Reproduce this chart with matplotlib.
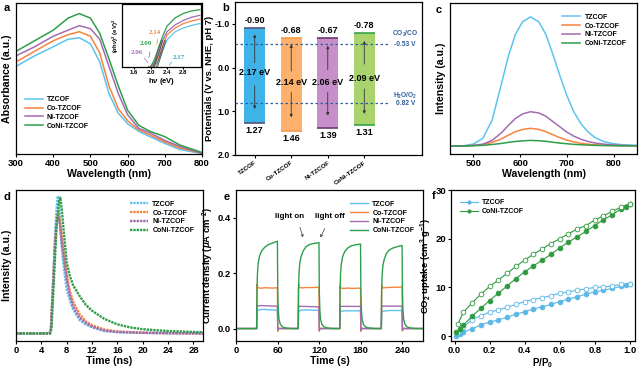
import matplotlib
matplotlib.use("Agg")
import matplotlib.pyplot as plt
from matplotlib.lines import Line2D

plt.rcParams.update({
    "font.family": ["Liberation Sans", "DejaVu Sans"],
    "font.weight": "bold",
    "axes.labelweight": "bold",
    "mathtext.fontset": "custom",
    "mathtext.rm": "Liberation Sans:bold",
    "mathtext.it": "Liberation Sans:italic:bold",
    "mathtext.bf": "Liberation Sans:bold",
    "axes.linewidth": 0.9,
    "xtick.major.width": 0.8,
    "ytick.major.width": 0.8,
    "xtick.major.size": 2.5,
    "ytick.major.size": 2.5,
    "xtick.major.pad": 1.2,
    "ytick.major.pad": 1.2,
    "xtick.labelsize": 6.8,
    "ytick.labelsize": 6.8,
    "axes.labelsize": 7.6,
    "axes.labelpad": 0.8,
})

names = ["TZCOF", "Co-TZCOF", "Ni-TZCOF", "CoNi-TZCOF"]
colors = ["#5cc3ee", "#f5833c", "#a36bb0", "#2f9e4b"]

# ---- a: UV-vis ----
wl = [300, 350, 400, 440, 470, 500, 525, 550, 575, 600, 630, 660, 700, 740, 800]
abs_tz = [0.58, 0.65, 0.71, 0.76, 0.77, 0.73, 0.61, 0.40, 0.27, 0.20, 0.15, 0.115, 0.07, 0.03, 0.003]
abs_co = [0.61, 0.68, 0.75, 0.79, 0.81, 0.78, 0.67, 0.45, 0.30, 0.22, 0.16, 0.126, 0.08, 0.04, 0.005]
abs_ni = [0.65, 0.71, 0.78, 0.82, 0.85, 0.83, 0.76, 0.58, 0.40, 0.26, 0.17, 0.14, 0.09, 0.05, 0.005]
abs_coni = [0.68, 0.75, 0.82, 0.90, 0.93, 0.90, 0.80, 0.63, 0.45, 0.29, 0.19, 0.15, 0.115, 0.06, 0.01]

hv = [1.95, 2.0, 2.1, 2.2, 2.3, 2.4, 2.6, 2.8, 3.0, 3.2]
tauc_tz = [0.0, 0.0, 0.02, 0.11, 0.27, 0.43, 0.56, 0.62, 0.66, 0.69]
tauc_co = [0.0, 0.0, 0.04, 0.16, 0.35, 0.51, 0.62, 0.69, 0.73, 0.76]
tauc_ni = [0.0, 0.01, 0.07, 0.21, 0.43, 0.56, 0.67, 0.74, 0.79, 0.82]
tauc_coni = [0.0, 0.0, 0.13, 0.32, 0.50, 0.65, 0.78, 0.85, 0.89, 0.91]
gaps = [2.17, 2.14, 2.06, 2.09]

# ---- b: band structure ----
cb = [-0.90, -0.68, -0.67, -0.78]
vb = [1.27, 1.46, 1.39, 1.31]
eg = [2.17, 2.14, 2.06, 2.09]
eg_y = [0.11, 0.34, 0.34, 0.24]
up_arrow = [(-0.11, -0.76), (0.08, -0.53), (0.05, -0.50), (-0.08, -0.61)]
down_arrow = [(0.42, 0.95), (0.57, 1.14), (0.57, 1.10), (0.49, 1.06)]
co2_co = -0.53
h2o_o2 = 0.82
bar_cols = ["#3fb3e8", "#fdb16c", "#c78fc9", "#a9d46d"]
edge_cols = ["#55557a", "#f59a4a", "#6a3a70", "#39a24a"]

# ---- c: PL ----
pl_wl = [450, 480, 500, 520, 540, 560, 575, 590, 605, 622, 640, 655, 670, 685, 700, 715, 730, 745, 760, 780, 800, 820, 850]
pl_tz = [0.053, 0.055, 0.066, 0.103, 0.223, 0.464, 0.650, 0.792, 0.875, 0.908, 0.875, 0.792, 0.661, 0.519, 0.387, 0.278, 0.201, 0.147, 0.109, 0.081, 0.068, 0.061, 0.057]
pl_co = [0.053, 0.054, 0.056, 0.062, 0.077, 0.100, 0.125, 0.148, 0.162, 0.170, 0.163, 0.148, 0.128, 0.108, 0.092, 0.080, 0.071, 0.065, 0.061, 0.058, 0.056, 0.055, 0.054]
pl_ni = [0.053, 0.054, 0.057, 0.065, 0.090, 0.140, 0.190, 0.235, 0.265, 0.280, 0.272, 0.250, 0.215, 0.180, 0.145, 0.118, 0.098, 0.083, 0.073, 0.065, 0.060, 0.057, 0.055]
pl_coni = [0.053, 0.053, 0.055, 0.057, 0.063, 0.070, 0.077, 0.083, 0.087, 0.090, 0.088, 0.084, 0.078, 0.072, 0.068, 0.064, 0.061, 0.059, 0.057, 0.056, 0.055, 0.054, 0.054]

# ---- d: TRPL ----
t_tz = [0, 2, 4, 5.3, 5.5, 5.8, 6.1, 6.4, 6.6, 6.8, 7.0, 7.2, 7.5, 8.0, 8.5, 9, 10, 11, 12, 14, 16, 20, 24, 29.5]
d_tz = [0.05, 0.05, 0.05, 0.05, 0.08, 0.35, 0.65, 0.88, 0.96, 0.90, 0.75, 0.63, 0.50, 0.34, 0.27, 0.21, 0.14, 0.11, 0.09, 0.066, 0.058, 0.054, 0.052, 0.05]
t_co = [0, 2, 4, 5.3, 5.5, 5.8, 6.1, 6.4, 6.7, 6.9, 7.2, 7.5, 8.0, 8.5, 9, 10, 11, 12, 14, 16, 20, 24, 29.5]
d_co = [0.05, 0.05, 0.05, 0.05, 0.08, 0.33, 0.60, 0.80, 0.86, 0.80, 0.70, 0.60, 0.44, 0.33, 0.26, 0.18, 0.13, 0.105, 0.075, 0.063, 0.055, 0.052, 0.05]
d_ni = [0.05, 0.05, 0.05, 0.05, 0.08, 0.33, 0.60, 0.78, 0.82, 0.78, 0.66, 0.56, 0.41, 0.30, 0.23, 0.155, 0.12, 0.095, 0.068, 0.060, 0.054, 0.052, 0.05]
t_coni = [0, 2, 4, 5.4, 5.6, 6.0, 6.4, 6.8, 7.0, 7.2, 7.5, 8.0, 8.5, 9, 10, 11, 12, 14, 16, 18, 20, 24, 29.5]
d_coni = [0.05, 0.05, 0.05, 0.05, 0.08, 0.42, 0.76, 0.93, 0.95, 0.88, 0.74, 0.52, 0.43, 0.37, 0.30, 0.24, 0.20, 0.145, 0.11, 0.09, 0.078, 0.066, 0.058]

# ---- e: photocurrent ----
t_e = [0, 29.8,
       30.3, 31, 32, 34, 37, 41, 46, 52, 59.8, 60.3, 61, 62, 64, 67, 72, 80, 89.8,
       90.3, 91, 92, 94, 97, 101, 106, 112, 119.8, 120.3, 121, 122, 124, 127, 132, 140, 149.8,
       150.3, 151, 152, 154, 157, 161, 166, 172, 179.8, 180.3, 181, 182, 184, 187, 192, 200, 209.8,
       210.3, 211, 212, 214, 217, 221, 226, 232, 239.8, 240.3, 241, 242, 244, 247, 252, 260, 270]
j_coni = [0, 0,
          0.14, 0.20, 0.235, 0.262, 0.28, 0.292, 0.302, 0.308, 0.315, 0.13, 0.07, 0.035, 0.015, 0.006, 0.002, 0, 0,
          0.14, 0.20, 0.235, 0.26, 0.28, 0.295, 0.303, 0.307, 0.31, 0.13, 0.07, 0.035, 0.015, 0.006, 0.002, 0, 0,
          0.14, 0.20, 0.232, 0.26, 0.278, 0.29, 0.298, 0.302, 0.305, 0.13, 0.07, 0.035, 0.015, 0.006, 0.002, 0, 0,
          0.13, 0.19, 0.225, 0.25, 0.27, 0.283, 0.29, 0.295, 0.30, 0.13, 0.07, 0.035, 0.015, 0.006, 0.002, 0, 0]
j_co = [0, 0,
        0.16, 0.15, 0.147, 0.146, 0.146, 0.147, 0.147, 0.146, 0.147, -0.01, 0.0, 0.001, 0, 0, 0, 0, 0,
        0.162, 0.15, 0.148, 0.147, 0.147, 0.148, 0.148, 0.148, 0.149, -0.01, 0.0, 0.001, 0, 0, 0, 0, 0,
        0.155, 0.148, 0.146, 0.145, 0.145, 0.146, 0.145, 0.145, 0.146, -0.01, 0.0, 0.001, 0, 0, 0, 0, 0,
        0.155, 0.148, 0.147, 0.147, 0.148, 0.148, 0.149, 0.149, 0.150, -0.008, 0.0, 0.001, 0, 0, 0, 0, 0]
j_ni = [0, 0,
        0.085, 0.083, 0.082, 0.082, 0.083, 0.082, 0.082, 0.081, 0.081, -0.005, 0, 0, 0, 0, 0, 0, 0,
        0.083, 0.081, 0.080, 0.080, 0.080, 0.080, 0.079, 0.079, 0.078, -0.005, 0, 0, 0, 0, 0, 0, 0,
        0.082, 0.081, 0.080, 0.080, 0.080, 0.080, 0.080, 0.080, 0.080, -0.005, 0, 0, 0, 0, 0, 0, 0,
        0.082, 0.081, 0.081, 0.081, 0.081, 0.081, 0.081, 0.081, 0.081, -0.005, 0, 0, 0, 0, 0, 0, 0]
j_tz = [0, 0,
        0.060, 0.064, 0.066, 0.068, 0.069, 0.069, 0.068, 0.067, 0.066, -0.008, 0, 0, 0, 0, 0, 0, 0,
        0.058, 0.062, 0.064, 0.066, 0.067, 0.067, 0.067, 0.066, 0.066, -0.008, 0, 0, 0, 0, 0, 0, 0,
        0.056, 0.060, 0.062, 0.063, 0.064, 0.064, 0.064, 0.064, 0.064, -0.008, 0, 0, 0, 0, 0, 0, 0,
        0.056, 0.060, 0.062, 0.063, 0.064, 0.065, 0.065, 0.065, 0.065, -0.008, 0, 0, 0, 0, 0, 0, 0]

# ---- f: CO2 isotherms ----
p_ads = [0.01, 0.03, 0.05, 0.1, 0.15, 0.2, 0.25, 0.3, 0.35, 0.4, 0.45, 0.5, 0.55, 0.6, 0.65, 0.7, 0.75, 0.8, 0.85, 0.9, 0.95, 0.98, 1.0]
ads_coni = [0.8, 1.5, 2.2, 4.1, 5.7, 7.3, 8.8, 10.3, 11.8, 13.2, 14.4, 15.6, 16.8, 18.1, 19.3, 20.4, 21.5, 22.7, 23.9, 24.9, 26.1, 26.5, 27.2]
ads_tz = [0.1, 0.5, 0.8, 1.5, 2.3, 2.9, 3.3, 3.9, 4.5, 5.0, 5.6, 6.0, 6.5, 7.1, 7.6, 8.1, 8.6, 9.1, 9.4, 9.8, 10.2, 10.4, 10.6]
p_des = [1.0, 0.95, 0.9, 0.85, 0.8, 0.75, 0.7, 0.65, 0.6, 0.55, 0.5, 0.45, 0.4, 0.35, 0.3, 0.25, 0.2, 0.15, 0.1, 0.05, 0.02]
des_coni = [27.2, 26.5, 25.6, 24.7, 23.8, 22.7, 22.0, 21.0, 20.0, 19.0, 17.9, 16.8, 15.6, 14.3, 12.9, 11.5, 10.2, 8.6, 6.8, 4.9, 2.5]
des_tz = [10.6, 10.6, 10.3, 10.1, 10.0, 9.7, 9.4, 9.1, 8.8, 8.3, 7.9, 7.5, 7.1, 6.5, 5.9, 5.4, 4.9, 4.2, 3.4, 1.8, 0.8]

fig = plt.figure(figsize=(6.41, 3.69), dpi=100)
W, H = 641, 369


def add_ax(x0, y0, x1, y1):
    return fig.add_axes([x0 / W, 1 - y1 / H, (x1 - x0) / W, (y1 - y0) / H])


def legend(ax, loc, anchor, handles=None, labels=None):
    kw = dict(loc=loc, bbox_to_anchor=anchor, frameon=False, fontsize=5,
              handlelength=2.6, labelspacing=0.25, borderpad=0.2, handletextpad=0.6)
    if handles is None:
        ax.legend(**kw)
    else:
        ax.legend(handles, labels, **kw)


def panel_letter(x, y, s):
    fig.text(x / W, 1 - y / H, s, fontsize=8, fontweight="bold", ha="left", va="center")


# ---------------- a ----------------
ax = add_ax(16, 3, 202, 154)
for y, c, n in zip([abs_tz, abs_co, abs_ni, abs_coni], colors, names):
    ax.plot(wl, y, color=c, lw=1.1, label=n)
ax.set_xlim(300, 800)
ax.set_ylim(0, 1)
ax.set_yticks([])
ax.set_xticks([300, 400, 500, 600, 700, 800])
ax.set_xlabel("Wavelength (nm)")
ax.set_ylabel("Absorbance (a.u.)", labelpad=3)
legend(ax, "lower left", (0.02, 0.13))
panel_letter(4, 8, "a")

ins = add_ax(122, 4, 201, 67)
for y, c in zip([tauc_tz, tauc_co, tauc_ni, tauc_coni], colors):
    ins.plot(hv, y, color=c, lw=0.9)
for g in gaps:
    ins.plot([g, g + 0.2], [0, 0.42], color="#444444", lw=0.5)
ins.set_xlim(1.3, 3.23)
ins.set_ylim(0, 1)
ins.set_yticks([])
ins.set_xticks([1.6, 2.0, 2.4, 2.8])
ins.tick_params(labelsize=4.3, length=1.5, pad=0.8)
ins.set_xlabel(r"h$\nu$ (eV)", fontsize=5.5, labelpad=0.3)
ins.set_ylabel(r"($\alpha$h$\nu$)$^2$ (eV)$^2$", fontsize=4.3, labelpad=1)
serif = ["Liberation Serif", "DejaVu Serif"]
ins.text(2.10, 0.55, "2.14", color=colors[1], fontsize=5, family=serif, ha="center", va="center")
ins.text(1.87, 0.38, "2.09", color=colors[3], fontsize=5, family=serif, ha="center", va="center")
ins.text(1.66, 0.23, "2.06", color=colors[2], fontsize=5, family=serif, ha="center", va="center")
ins.text(2.69, 0.15, "2.17", color="#2aa8c8", fontsize=5, family=serif, ha="center", va="center")
ins.plot([2.17, 2.15], [0.44, 0.36], color=colors[1], lw=0.5)
ins.plot([1.98, 1.96], [0.24, 0.15], color=colors[3], lw=0.5)
ins.plot([1.85, 1.93], [0.14, 0.07], color=colors[2], lw=0.5)
ins.plot([2.51, 2.46], [0.08, 0.03], color="#2aa8c8", lw=0.5)

# ---------------- b ----------------
ax = add_ax(235, 2, 422, 155)
pos = list(range(len(names)))
bw = 0.57
ax.axhline(co2_co, xmax=0.83, color="#2f5f9e", lw=0.9, ls=(0, (2, 2)), zorder=3)
ax.axhline(h2o_o2, xmax=0.83, color="#2f5f9e", lw=0.9, ls=(0, (2, 2)), zorder=3)
for i in pos:
    ax.bar(i, vb[i] - cb[i], bottom=cb[i], width=bw, color=bar_cols[i], zorder=1)
    ax.hlines([cb[i], vb[i]], i - bw / 2, i + bw / 2, color=edge_cols[i], lw=1.2, zorder=2)
    ax.text(i, cb[i] - 0.07, f"{cb[i]:.2f}", ha="center", va="bottom", fontsize=6.5)
    ax.text(i, vb[i] + 0.07, f"{vb[i]:.2f}", ha="center", va="top", fontsize=6.5)
    ax.text(i, eg_y[i], f"{eg[i]:.2f} eV", ha="center", va="center", fontsize=6.5, zorder=4)
    for s, e in (up_arrow[i], down_arrow[i]):
        ax.annotate("", xy=(i, e), xytext=(i, s),
                    arrowprops=dict(arrowstyle="-|>", lw=0.6, color="#333333",
                                    mutation_scale=4, shrinkA=0, shrinkB=0), zorder=4)
ax.text(4.12, -0.76, r"CO$_2$/CO", color="#2f5f9e", fontsize=4.8, ha="center", va="center")
ax.text(4.12, -0.53, f"{co2_co:.2f} V", color="#2f5f9e", fontsize=4.8, ha="center", va="center")
ax.text(4.12, 0.64, r"H$_2$O/O$_2$", color="#2f5f9e", fontsize=4.8, ha="center", va="center")
ax.text(4.12, 0.83, f"{h2o_o2:.2f} V", color="#2f5f9e", fontsize=4.8, ha="center", va="center")
ax.set_xlim(-0.54, 4.58)
ax.set_ylim(2.0, -1.5)
ax.set_yticks([-1.0, 0.0, 1.0, 2.0])
ax.set_yticklabels(["-1.0", "0.0", "1.0", "2.0"])
ax.tick_params(axis="y", labelsize=6.3)
ax.set_xticks(pos)
ax.set_xticklabels(names, rotation=35, ha="right", rotation_mode="anchor", fontsize=4.5)
ax.set_ylabel("Potentials (V vs. NHE, pH 7)", fontsize=6.8, labelpad=0.5)
panel_letter(222, 8, "b")

# ---------------- c ----------------
ax = add_ax(450, 3, 637, 154)
for y, c, n in zip([pl_tz, pl_co, pl_ni, pl_coni], colors, names):
    ax.plot(pl_wl, y, color=c, lw=1.1, label=n)
ax.set_xlim(450, 850)
ax.set_ylim(0, 1)
ax.set_yticks([])
ax.set_xticks([500, 600, 700, 800])
ax.set_xlabel("Wavelength (nm)")
ax.set_ylabel("Intensity (a.u.)", labelpad=3)
legend(ax, "upper right", (0.97, 0.96))
panel_letter(436, 10, "c")

# ---------------- d ----------------
ax = add_ax(16, 190, 203, 341)
for t, y, c, n in zip([t_tz, t_co, t_co, t_coni], [d_tz, d_co, d_ni, d_coni], colors, names):
    ax.plot(t, y, color=c, lw=1.7, ls=(0, (1, 0.4)), label=n)
ax.set_xlim(0, 29.5)
ax.set_ylim(0, 1)
ax.set_yticks([])
ax.set_xticks(range(0, 29, 4))
ax.set_xlabel("Time (ns)")
ax.set_ylabel("Intensity (a.u.)", labelpad=3)
legend(ax, "upper right", (0.98, 0.96))
panel_letter(3, 197, "d")

# ---------------- e ----------------
ax = add_ax(236, 190, 423, 341)
for y, c, n in zip([j_tz, j_co, j_ni, j_coni], colors, names):
    ax.plot(t_e, y, color=c, lw=1.0, label=n)
ax.set_xlim(0, 270)
ax.set_ylim(-0.045, 0.5)
ax.set_xticks([0, 60, 120, 180, 240])
ax.set_yticks([0.0, 0.2, 0.4])
ax.set_xlabel("Time (s)")
ax.set_ylabel(r"Current density ($\mu$A cm$^{-2}$)", fontsize=6.8, labelpad=1)
ax.text(78, 0.405, "light on", fontsize=5.8, ha="center", va="center")
ax.text(135, 0.405, "light off", fontsize=5.8, ha="center", va="center")
ax.annotate("", xy=(98, 0.32), xytext=(91, 0.375),
            arrowprops=dict(arrowstyle="->", lw=0.5, color="#333333", mutation_scale=4))
ax.annotate("", xy=(120, 0.32), xytext=(130, 0.37),
            arrowprops=dict(arrowstyle="->", lw=0.5, color="#333333", mutation_scale=4))
legend(ax, "upper right", (0.98, 0.96))
panel_letter(224, 197, "e")

# ---------------- f ----------------
ax = add_ax(451, 190, 635, 341)
f_cols = ["#5ab8e6", "#2e9b3e"]
ax.plot(p_ads, ads_tz, color=f_cols[0], lw=0.8, marker="o", ms=3.4, mfc=f_cols[0], mew=0.6)
ax.plot(p_des, des_tz, color=f_cols[0], lw=0.8, marker="o", ms=3.4, mfc="white", mew=0.6)
ax.plot(p_ads, ads_coni, color=f_cols[1], lw=0.8, marker="o", ms=3.4, mfc=f_cols[1], mew=0.6)
ax.plot(p_des, des_coni, color=f_cols[1], lw=0.8, marker="o", ms=3.4, mfc="white", mew=0.6)
ax.set_xlim(-0.02, 1.03)
ax.set_ylim(-1, 30)
ax.set_xticks([0.0, 0.2, 0.4, 0.6, 0.8, 1.0])
ax.set_yticks([0, 10, 20, 30])
ax.set_xlabel(r"P/P$_0$", fontsize=7)
ax.set_ylabel(r"CO$_2$ uptake (cm$^3$ g$^{-1}$)", fontsize=6.8, labelpad=1)
handles = [Line2D([], [], color=f_cols[0], lw=0.8, marker="o", ms=2),
           Line2D([], [], color=f_cols[1], lw=0.8, marker="o", ms=2)]
legend(ax, "upper left", (0.02, 0.97), handles, ["TZCOF", "CoNi-TZCOF"])
panel_letter(432, 196, "f")

fig.savefig("out.png", dpi=100)
